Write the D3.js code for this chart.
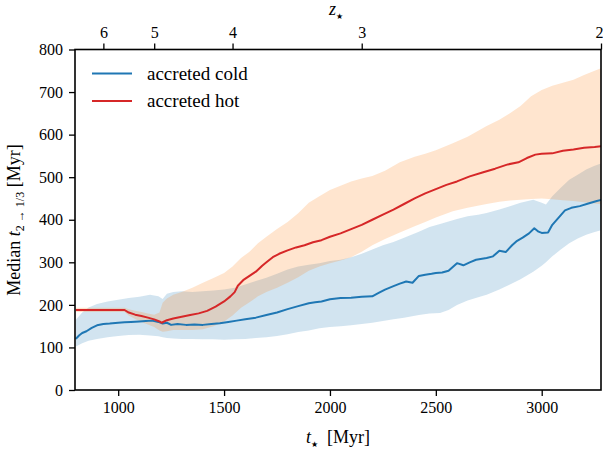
<!DOCTYPE html>
<html>
<head>
<meta charset="utf-8">
<script src="https://cdn.jsdelivr.net/npm/d3@7"></script>
<style>
  html, body { margin: 0; padding: 0; background: #fff; }
  svg { display: block; }
  text { font-family: "Liberation Serif", "Times New Roman", serif; fill: #000; }
  .star { font-family: "DejaVu Sans", sans-serif; }
</style>
</head>
<body>
<svg id="chart" width="603" height="453"></svg>
<script>
// ---- data ----
const xTicks = [1000, 1500, 2000, 2500, 3000];
const yTicks = [0, 100, 200, 300, 400, 500, 600, 700, 800];
const zTickLabels = ["6", "5", "4", "3", "2"];
const zTickAges = [930, 1170, 1540, 2150, 3280];

const coldT = [800, 815, 830, 850, 875, 900, 930, 960, 1000, 1030, 1060, 1100, 1130, 1160, 1190, 1210, 1230, 1250, 1280, 1320, 1360, 1400, 1440, 1480, 1520, 1560, 1600, 1650, 1700, 1750, 1800, 1850, 1900, 1930, 1960, 2000, 2050, 2100, 2150, 2200, 2230, 2260, 2300, 2330, 2360, 2390, 2420, 2450, 2480, 2500, 2530, 2560, 2600, 2630, 2660, 2690, 2740, 2770, 2800, 2830, 2860, 2880, 2910, 2940, 2965, 2985, 3000, 3030, 3050, 3080, 3110, 3140, 3180, 3220, 3260, 3285];
const coldMedian = [120, 128, 134, 138, 146, 152, 155, 156, 158, 159, 160, 161, 162, 163, 160, 156, 158, 153, 155, 153, 154, 153, 155, 157, 160, 163, 166, 170, 176, 182, 190, 197, 204, 206, 208, 213, 216, 217, 219, 220, 228, 236, 244, 250, 255, 252, 268, 271, 273, 275, 276, 280, 298, 293, 300, 306, 310, 314, 327, 324, 340, 349, 358, 368, 380, 372, 369, 370, 388, 405, 422, 428, 432, 438, 444, 447];

const hotT = [800, 1030, 1050, 1080, 1110, 1140, 1170, 1195, 1205, 1230, 1260, 1300, 1340, 1380, 1420, 1460, 1500, 1530, 1550, 1565, 1590, 1620, 1650, 1680, 1700, 1730, 1760, 1800, 1840, 1880, 1920, 1960, 2000, 2050, 2100, 2150, 2200, 2250, 2300, 2350, 2400, 2450, 2500, 2550, 2600, 2660, 2720, 2780, 2840, 2890, 2930, 2970, 3000, 3050, 3100, 3150, 3200, 3250, 3285];
const hotMedian = [188, 188, 182, 177, 174, 170, 166, 161, 158, 164, 168, 172, 176, 180, 186, 196, 208, 220, 230, 245, 258, 268, 278, 292, 300, 312, 320, 328, 335, 340, 347, 352, 360, 368, 378, 388, 400, 412, 424, 437, 450, 462, 472, 482, 490, 502, 511, 520, 530, 535, 545, 553, 555, 556, 562, 565, 569, 571, 573];

const coldBandT = [800, 830, 860, 900, 950, 1000, 1050, 1100, 1150, 1190, 1210, 1230, 1260, 1300, 1350, 1400, 1450, 1500, 1550, 1600, 1650, 1700, 1750, 1800, 1850, 1900, 1950, 2000, 2050, 2100, 2150, 2200, 2250, 2300, 2350, 2420, 2470, 2520, 2560, 2600, 2650, 2700, 2740, 2800, 2850, 2900, 2960, 3000, 3020, 3050, 3090, 3130, 3170, 3210, 3250, 3285];
const coldLow = [102, 110, 116, 120, 124, 127, 129, 130, 128, 126, 124, 122, 121, 120, 120, 119, 119, 118, 119, 120, 122, 124, 127, 131, 136, 140, 145, 148, 150, 152, 155, 158, 162, 166, 170, 176, 180, 181, 188, 200, 210, 218, 224, 236, 248, 260, 278, 292, 300, 314, 330, 345, 356, 365, 371, 376];
const coldHigh = [165, 182, 194, 202, 208, 212, 216, 219, 224, 220, 214, 226, 230, 232, 230, 232, 234, 236, 240, 248, 256, 264, 273, 283, 290, 294, 298, 303, 306, 312, 320, 330, 340, 348, 358, 372, 383, 390, 396, 402, 408, 412, 416, 424, 432, 440, 447, 440, 436, 455, 475, 494, 506, 518, 527, 533];

const hotBandT = [800, 1030, 1050, 1080, 1110, 1140, 1170, 1195, 1210, 1230, 1260, 1300, 1350, 1400, 1450, 1500, 1540, 1580, 1620, 1660, 1700, 1750, 1800, 1850, 1900, 1950, 2000, 2050, 2100, 2150, 2200, 2260, 2330, 2400, 2450, 2500, 2580, 2650, 2740, 2800, 2850, 2900, 2950, 3000, 3050, 3100, 3150, 3200, 3250, 3285];
const hotLow = [183, 183, 175, 167, 160, 154, 148, 140, 137, 138, 141, 141, 141, 143, 150, 161, 175, 193, 206, 220, 230, 240, 252, 265, 280, 290, 298, 304, 312, 325, 340, 355, 370, 385, 395, 405, 420, 428, 437, 442, 445, 447, 449, 450, 448, 446, 444, 441, 438, 436];
const hotHigh = [193, 193, 190, 186, 183, 180, 177, 182, 205, 215, 224, 230, 240, 252, 263, 275, 290, 310, 325, 345, 360, 378, 395, 415, 440, 455, 470, 480, 490, 497, 503, 515, 535, 548, 555, 563, 580, 595, 620, 635, 650, 667, 690, 705, 715, 722, 729, 740, 750, 757];

const seriesNames = ["accreted cold", "accreted hot"];
const lineColors = ["#1f77b4", "#d62728"];
const bandColors = ["#1f77b4", "#ff7f0e"];

// ---- chart ----
const svg = d3.select("#chart");
const mLeft = 75, mRight = 601, mTop = 49.5, mBottom = 390;
const x = d3.scaleLinear().domain([796, 3280]).range([mLeft, mRight]);
const y = d3.scaleLinear().domain([0, 800]).range([mBottom, mTop]);

svg.append("defs").append("clipPath").attr("id", "clip")
  .append("rect").attr("x", mLeft).attr("y", mTop).attr("width", mRight - mLeft).attr("height", mBottom - mTop);

const plot = svg.append("g").attr("clip-path", "url(#clip)");

const area = d3.area().x(d => x(d[0])).y0(d => y(d[1])).y1(d => y(d[2]));
const line = d3.line().x(d => x(d[0])).y(d => y(d[1]));

plot.append("path").datum(d3.zip(coldBandT, coldLow, coldHigh))
  .attr("d", area).attr("fill", bandColors[0]).attr("fill-opacity", 0.2);
plot.append("path").datum(d3.zip(hotBandT, hotLow, hotHigh))
  .attr("d", area).attr("fill", bandColors[1]).attr("fill-opacity", 0.2);

plot.append("path").datum(d3.zip(coldT, coldMedian))
  .attr("d", line).attr("fill", "none").attr("stroke", lineColors[0]).attr("stroke-width", 2).attr("stroke-linejoin", "round");
plot.append("path").datum(d3.zip(hotT, hotMedian))
  .attr("d", line).attr("fill", "none").attr("stroke", lineColors[1]).attr("stroke-width", 2).attr("stroke-linejoin", "round");

// axes
const fs = 16;
const gx = svg.append("g").attr("transform", `translate(0,${mBottom})`)
  .call(d3.axisBottom(x).tickValues(xTicks).tickSize(6).tickPadding(6).tickFormat(d3.format("d")));
const gy = svg.append("g").attr("transform", `translate(${mLeft},0)`)
  .call(d3.axisLeft(y).tickValues(yTicks).tickSize(6).tickPadding(6).tickFormat(d3.format("d")));
const gt = svg.append("g").attr("transform", `translate(0,${mTop})`)
  .call(d3.axisTop(x).tickValues(zTickAges).tickSize(6).tickPadding(6)
    .tickFormat((d, i) => zTickLabels[i]));

[gx, gy, gt].forEach(g => {
  g.select(".domain").remove();
  g.selectAll(".tick line").attr("stroke", "#000").attr("stroke-width", 1.3);
  g.selectAll(".tick text").attr("font-family", "Liberation Serif").attr("font-size", fs).attr("fill", "#000");
});
// last redshift label sits at the right edge: keep it inside the picture
gt.selectAll(".tick text").filter((d, i) => i === zTickAges.length - 1)
  .attr("text-anchor", "end").attr("dx", 2);

svg.append("rect").attr("x", mLeft).attr("y", mTop).attr("width", mRight - mLeft).attr("height", mBottom - mTop)
  .attr("fill", "none").attr("stroke", "#000").attr("stroke-width", 1.6);

// labels
const xl = svg.append("text").attr("x", 338).attr("y", 443).attr("text-anchor", "middle").attr("font-size", 18);
xl.append("tspan").attr("font-style", "italic").text("t");
xl.append("tspan").attr("class", "star").attr("font-size", 8).attr("dy", 4).text("★");
xl.append("tspan").attr("dy", -4).text("\u00a0\u00a0[Myr]");

const zl = svg.append("text").attr("x", 336).attr("y", 15).attr("text-anchor", "middle").attr("font-size", 18);
zl.append("tspan").attr("font-style", "italic").text("z");
zl.append("tspan").attr("class", "star").attr("font-size", 8).attr("dy", 4).text("★");

const yl = svg.append("text").attr("transform", "translate(20,220) rotate(-90)")
  .attr("text-anchor", "middle").attr("font-size", 18);
yl.append("tspan").text("Median ");
yl.append("tspan").attr("font-style", "italic").text("t");
yl.append("tspan").attr("font-size", 12).attr("dy", 4).text("2 → 1/3");
yl.append("tspan").attr("dy", -4).text(" [Myr]");

// legend
const legend = svg.append("g");
seriesNames.forEach((name, i) => {
  const ly = 73.5 + i * 27.5;
  legend.append("line").attr("x1", 92).attr("x2", 132).attr("y1", ly).attr("y2", ly)
    .attr("stroke", lineColors[i]).attr("stroke-width", 2);
  legend.append("text").attr("x", 147).attr("y", ly + 6).attr("font-size", 19).text(name);
});
</script>
</body>
</html>
